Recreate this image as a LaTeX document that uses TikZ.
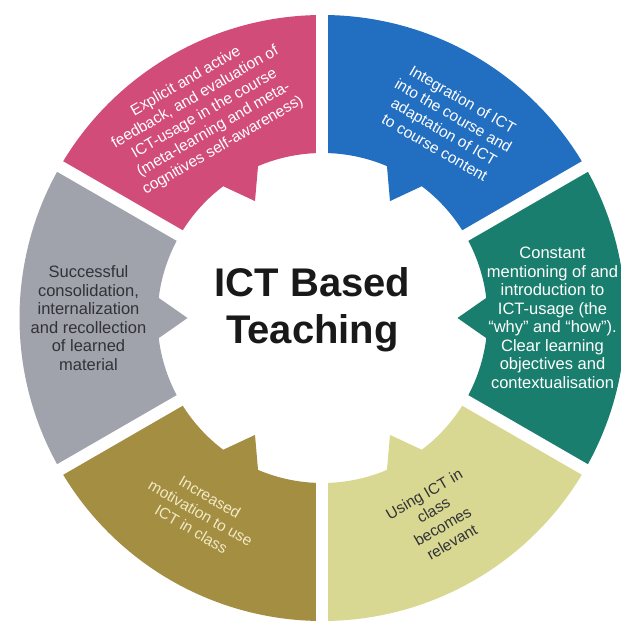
\documentclass[tikz,border=0pt]{standalone}
\usepackage{fontspec}
\setmainfont{Liberation Sans}
\usepackage{xcolor}
\definecolor{ringpink}{RGB}{210,76,122}
\definecolor{ringblue}{RGB}{34,110,192}
\definecolor{ringteal}{RGB}{26,126,110}
\definecolor{ringlime}{RGB}{216,216,146}
\definecolor{ringolive}{RGB}{163,142,66}
\definecolor{ringgrey}{RGB}{160,162,172}
\definecolor{darktext}{RGB}{50,50,55}
\definecolor{creamtext}{RGB}{242,234,196}
\tikzset{
  parttext/.style={align=center, font=\fontsize{15.5}{18.5}\selectfont},
  sidetext/.style={align=center, font=\fontsize{16.5}{18.5}\selectfont},
  gapline/.style={white, line width=12},
}

\begin{document}
\begin{tikzpicture}[x=1pt,y=1pt]
        \fill[white] (-322.5,-309) rectangle (298.5,318);
        \clip (-322.5,-309) rectangle (298.5,318);
        % the six parts of the ring
        \fill[ringpink] (90:303) arc[start angle=90, end angle=150, radius=303] -- (150:165) arc[start angle=150, end angle=127, radius=165] -- (120:135) -- (113:165) arc[start angle=113, end angle=90, radius=165] -- cycle;
        \fill[ringblue] (30:303) arc[start angle=30, end angle=90, radius=303] -- (90:165) arc[start angle=90, end angle=67, radius=165] -- (60:135) -- (53:165) arc[start angle=53, end angle=30, radius=165] -- cycle;
        \fill[ringteal] (-30:303) arc[start angle=-30, end angle=30, radius=303] -- (30:165) arc[start angle=30, end angle=7, radius=165] -- (0:135) -- (-7:165) arc[start angle=-7, end angle=-30, radius=165] -- cycle;
        \fill[ringlime] (-90:303) arc[start angle=-90, end angle=-30, radius=303] -- (-30:165) arc[start angle=-30, end angle=-53, radius=165] -- (-60:135) -- (-67:165) arc[start angle=-67, end angle=-90, radius=165] -- cycle;
        \fill[ringolive] (210:303) arc[start angle=210, end angle=270, radius=303] -- (270:165) arc[start angle=270, end angle=247, radius=165] -- (240:135) -- (233:165) arc[start angle=233, end angle=210, radius=165] -- cycle;
        \fill[ringgrey] (150:303) arc[start angle=150, end angle=210, radius=303] -- (210:165) arc[start angle=210, end angle=187, radius=165] -- (180:135) -- (173:165) arc[start angle=173, end angle=150, radius=165] -- cycle;
        % white gaps between the parts
        \draw[gapline] (90:320) -- (270:320);
        \draw[gapline] (30:320) -- (210:320);
        \draw[gapline] (150:320) -- (330:320);
        % texts
        \node[parttext, text=white, rotate=30] (feedback) at (120:236) {Explicit and active\\feedback, and evaluation of\\ICT-usage in the course\\(meta-learning and meta-\\cognitives self-awareness)};
        \node[parttext, text=white, rotate=-30] (integration) at (57:232) {Integration of ICT\\into the course and\\adaptation of ICT\\to course content};
        \node[sidetext, text=white] (mentioning) at (0:230) {Constant\\mentioning of and\\introduction to\\ICT-usage (the\\“why” and “how”).\\Clear learning\\objectives and\\contextualisation};
        \node[sidetext, text=darktext] (consolidation) at (180:234) {Successful\\consolidation,\\internalization\\and recollection\\of learned\\material};
        \node[parttext, text=creamtext, rotate=-30] (motivation) at (238:230) {Increased\\motivation to use\\ICT in class};
        \node[parttext, text=darktext, rotate=30] (relevance) at (-60:231) {Using ICT in\\class\\becomes\\relevant};
        \node[align=center, text=black!90, font=\fontsize{40}{47}\selectfont\bfseries] (title) at (-10,8) {ICT Based\\Teaching};
    	\end{tikzpicture}
\end{document}
